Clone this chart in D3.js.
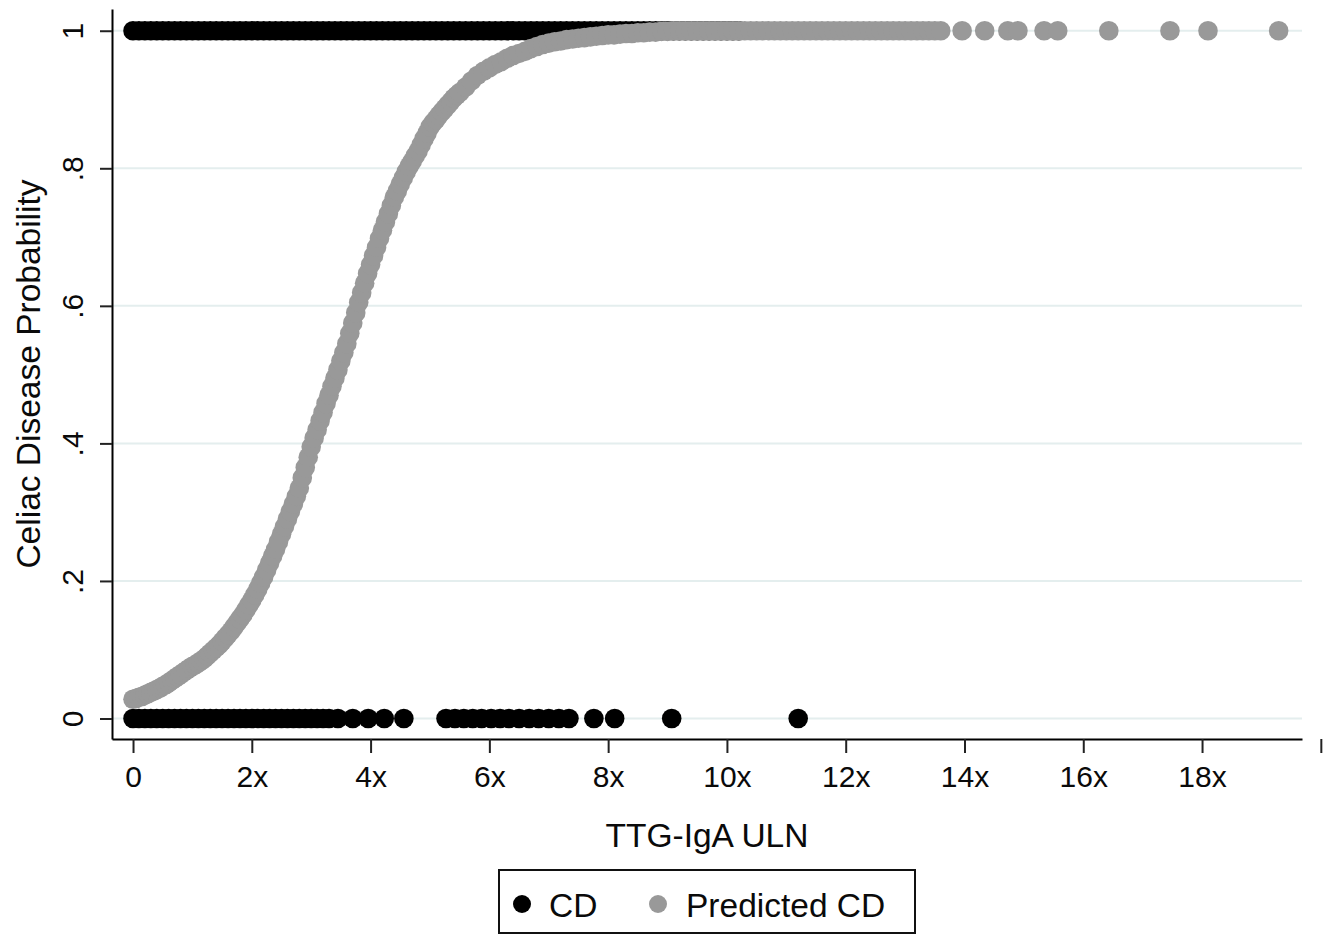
<!DOCTYPE html>
<html>
<head>
<meta charset="utf-8">
<script src="https://cdn.jsdelivr.net/npm/d3@7"></script>
<style>
  html, body { margin: 0; padding: 0; background: #fff; }
  svg { display: block; font-family: "Liberation Sans", Arial, Helvetica, sans-serif; }
</style>
</head>
<body>
<svg id="chart" width="1334" height="935"></svg>
<script>
// ---------------- DATA ----------------
const yTickValues = [0, 0.2, 0.4, 0.6, 0.8, 1];
const yTickLabels = ["0", ".2", ".4", ".6", ".8", "1"];
const xTickValues = [0, 2, 4, 6, 8, 10, 12, 14, 16, 18, 20];
const xTickLabels = ["0", "2x", "4x", "6x", "8x", "10x", "12x", "14x", "16x", "18x", ""];

const xTitle = "TTG-IgA ULN";
const yTitle = "Celiac Disease Probability";
const seriesNames = ["CD", "Predicted CD"];

// Observed CD = 1 (TTG-IgA multiples of ULN)
const cdPositiveX = [
  0.0,0.1,0.2,0.3,0.4,0.5,0.6,0.7,0.8,0.9,1.0,1.1,1.2,1.3,1.4,1.5,1.6,1.7,1.8,1.9,
  2.0,2.1,2.2,2.3,2.4,2.5,2.6,2.7,2.8,2.9,3.0,3.1,3.2,3.3,3.4,3.5,3.6,3.7,3.8,3.9,
  4.0,4.1,4.2,4.3,4.4,4.5,4.6,4.7,4.8,4.9,5.0,5.1,5.2,5.3,5.4,5.5,5.6,5.7,5.8,5.9,
  6.0,6.1,6.2,6.3,6.4,6.5,6.6,6.7,6.8,6.9,7.0,7.1,7.2,7.3,7.4,7.5,7.6,7.7,7.8,7.9,
  8.0,8.1,8.2,8.3,8.4,8.5,8.6,8.7,8.8,8.9,9.0,9.1,9.2,9.3,9.4,9.5,9.6,9.7,9.8,9.9,
  10.0,10.1,10.2
];
// Observed CD = 0
const cdNegativeX = [
  0.0,0.1,0.2,0.3,0.4,0.5,0.6,0.7,0.8,0.9,1.0,1.1,1.2,1.3,1.4,1.5,1.6,1.7,1.8,1.9,
  2.0,2.1,2.2,2.3,2.4,2.5,2.6,2.7,2.8,2.9,3.0,3.1,3.2,3.3,3.45,
  3.70,3.96,4.23,4.56,
  5.27,5.42,5.57,5.72,5.87,6.03,6.18,6.33,6.50,6.67,6.83,7.00,7.17,7.34,
  7.76,8.11,9.07,11.20
];

// Predicted probability of CD
const predX = [
  0.00,0.05,0.10,0.15,0.20,0.25,0.30,0.35,0.40,0.45,0.50,0.55,0.60,0.65,0.70,0.75,0.80,0.85,0.90,0.95,
  1.00,1.05,1.10,1.15,1.20,1.25,1.30,1.35,1.40,1.45,1.50,1.55,1.60,1.65,1.70,1.75,1.80,1.85,1.90,1.95,
  2.00,2.05,2.10,2.15,2.20,2.25,2.30,2.35,2.40,2.45,2.50,2.55,2.60,2.65,2.70,2.75,2.80,2.85,2.90,2.95,
  3.00,3.05,3.10,3.15,3.20,3.25,3.30,3.35,3.40,3.45,3.50,3.55,3.60,3.65,3.70,3.75,3.80,3.85,3.90,3.95,
  4.00,4.05,4.10,4.15,4.20,4.25,4.30,4.35,4.40,4.45,4.50,4.55,4.60,4.65,4.70,4.75,4.80,4.85,4.90,4.95,
  5.00,5.05,5.10,5.15,5.20,5.25,5.30,5.35,5.40,5.45,5.50,5.60,5.70,5.80,5.90,
  6.00,6.10,6.20,6.30,6.40,6.50,6.60,6.70,6.80,6.90,7.00,7.10,7.20,7.30,7.40,7.50,7.60,7.70,7.80,7.90,
  8.00,8.10,8.20,8.30,8.40,8.50,8.60,8.70,8.80,8.90,9.00,9.10,9.20,9.30,9.40,9.50,9.60,9.70,9.80,9.90,
  10.0,10.1,10.2,10.3,10.4,10.5,10.6,10.7,10.8,10.9,11.0,11.1,11.2,11.3,11.4,11.5,11.6,11.7,11.8,11.9,
  12.0,12.1,12.2,12.3,12.4,12.5,12.6,12.7,12.8,12.9,13.0,13.1,13.2,13.3,13.4,13.5,13.6,
  13.96,14.34,14.73,14.90,15.34,15.57,16.43,17.46,18.10,19.29
];
const predP = [
  .028,.029,.031,.032,.034,.036,.038,.040,.042,.044,.047,.049,.052,.055,.058,.061,.064,.067,.070,.073,
  .076,.078,.081,.084,.087,.091,.095,.099,.103,.107,.112,.117,.122,.127,.133,.139,.145,.151,.158,.165,
  .172,.180,.188,.197,.206,.216,.226,.236,.246,.257,.268,.279,.290,.301,.312,.323,.335,.350,.365,.380,
  .395,.408,.420,.433,.445,.458,.470,.483,.495,.507,.520,.532,.545,.560,.575,.590,.605,.619,.633,.647,
  .660,.673,.685,.698,.710,.722,.734,.746,.758,.767,.777,.786,.795,.803,.810,.818,.825,.834,.843,.851,
  .860,.866,.871,.877,.882,.887,.892,.897,.902,.906,.910,.918,.927,.935,.941,
  .946,.951,.955,.960,.964,.967,.970,.974,.977,.980,.982,.984,.985,.987,.988,.989,.990,.991,.992,.993,
  .994,.994,.995,.996,.996,.997,.997,.998,.998,.999,.999,1,1,1,1,1,1,1,1,1,
  1,1,1,1,1,1,1,1,1,1,1,1,1,1,1,1,1,1,1,1,
  1,1,1,1,1,1,1,1,1,1,1,1,1,1,1,1,1,
  1,1,1,1,1,1,1,1,1,1
];

// ---------------- DRAW ----------------
const svg = d3.select("#chart");
const W = 1334, H = 935;
svg.append("rect").attr("width", W).attr("height", H).attr("fill", "#fff");

const x = d3.scaleLinear().domain([-0.354, 19.683]).range([112, 1302]);
const y = d3.scaleLinear().domain([-0.0298, 1.0316]).range([739, 9]);

const R = 9.8;
const black = "#000000";
const grey = "#999999";
const gridColor = "#e4eeee";
const textColor = "#0a0a0a";
const fontFam = "'Liberation Sans', Arial, Helvetica, sans-serif";

// gridlines
svg.append("g").selectAll("line").data(yTickValues).join("line")
  .attr("x1", x.range()[0]).attr("x2", x.range()[1])
  .attr("y1", d => y(d)).attr("y2", d => y(d))
  .attr("stroke", gridColor).attr("stroke-width", 2);

// points: observed CD
const cdData = cdPositiveX.map(v => ({x: v, y: 1})).concat(cdNegativeX.map(v => ({x: v, y: 0})));
svg.append("g").selectAll("circle").data(cdData).join("circle")
  .attr("cx", d => x(d.x)).attr("cy", d => y(d.y)).attr("r", R)
  .attr("fill", black);

// points: predicted CD
const predData = predX.map((v, i) => ({x: v, y: predP[i]}));
svg.append("g").selectAll("circle").data(predData).join("circle")
  .attr("cx", d => x(d.x)).attr("cy", d => y(d.y)).attr("r", R)
  .attr("fill", grey);

// axes
const xAxis = d3.axisBottom(x).tickValues(xTickValues)
  .tickFormat((d, i) => xTickLabels[i]).tickSize(14).tickSizeOuter(0).tickPadding(13);
const gx = svg.append("g").attr("transform", `translate(0,${y.range()[0]})`).call(xAxis);
gx.select(".domain").attr("stroke", "#000").attr("stroke-width", 2);
gx.selectAll(".tick line").attr("stroke", "#222").attr("stroke-width", 2);
gx.selectAll(".tick text").attr("font-size", 30).attr("fill", textColor)
  .attr("font-family", fontFam);

const yAxis = d3.axisLeft(y).tickValues(yTickValues)
  .tickFormat((d, i) => yTickLabels[i]).tickSize(12).tickSizeOuter(0);
const gy = svg.append("g").attr("transform", `translate(${x.range()[0]},0)`).call(yAxis);
gy.select(".domain").attr("stroke", "#000").attr("stroke-width", 2);
gy.selectAll(".tick line").attr("stroke", "#222").attr("stroke-width", 2);
gy.selectAll(".tick text")
  .attr("x", null).attr("dy", null).attr("y", null)
  .attr("transform", "translate(-29,0) rotate(-90)")
  .attr("text-anchor", "middle")
  .attr("font-size", 30).attr("fill", textColor)
  .attr("font-family", fontFam);

// axis titles
svg.append("text")
  .attr("x", 707).attr("y", 847)
  .attr("text-anchor", "middle").attr("font-size", 33.5).attr("fill", textColor)
  .text(xTitle);
svg.append("text")
  .attr("transform", "translate(40,374) rotate(-90)")
  .attr("text-anchor", "middle").attr("font-size", 33.5).attr("fill", textColor)
  .text(yTitle);

// legend
const lg = svg.append("g");
lg.append("rect").attr("x", 499).attr("y", 870).attr("width", 416).attr("height", 63)
  .attr("fill", "#fff").attr("stroke", "#111").attr("stroke-width", 2);
const legendItems = [
  {name: seriesNames[0], color: black, cx: 522, tx: 549},
  {name: seriesNames[1], color: grey, cx: 658, tx: 686}
];
legendItems.forEach(it => {
  lg.append("circle").attr("cx", it.cx).attr("cy", 904).attr("r", 9).attr("fill", it.color);
  lg.append("text").attr("x", it.tx).attr("y", 917).attr("font-size", 33.5).attr("fill", textColor)
    .text(it.name);
});
</script>
</body>
</html>
